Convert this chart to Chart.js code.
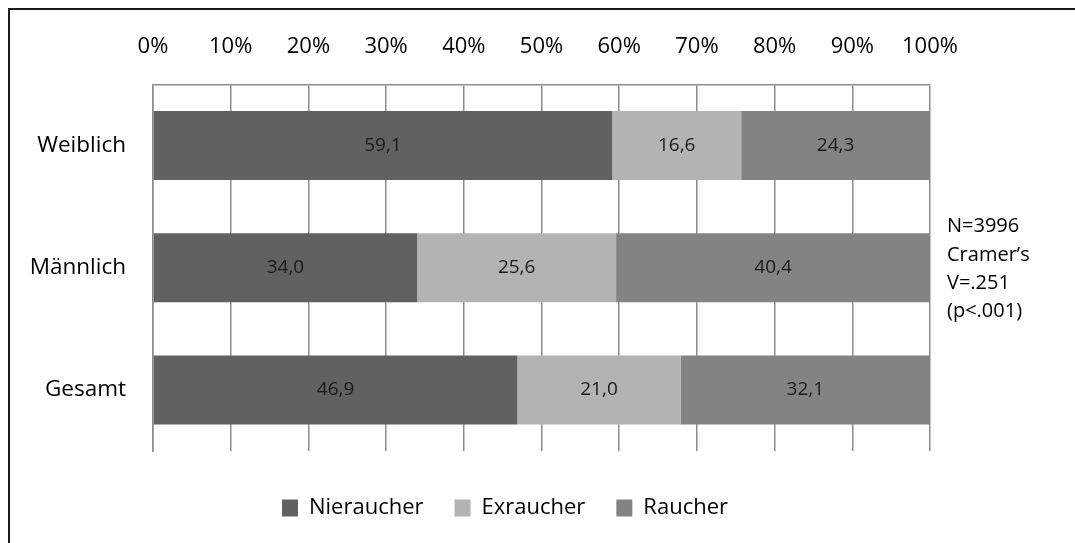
<!DOCTYPE html>
<html lang="de">
<head>
<meta charset="utf-8">
<title>Rauchstatus nach Geschlecht</title>
<script src="https://cdn.jsdelivr.net/npm/chart.js@4/dist/chart.umd.min.js"></script>
<style>
  html, body { margin: 0; padding: 0; background: #fff; }
  #wrap { position: relative; width: 1075px; height: 543px; overflow: hidden; }
  #frame { position: absolute; left: 8px; top: 8px; right: -20px; bottom: -20px;
           border-left: 2px solid #1c1c1c; border-top: 2px solid #1c1c1c; pointer-events: none; }
  canvas { display: block; }
</style>
</head>
<body>
<div id="wrap">
  <canvas id="chart" width="1075" height="543"></canvas>
  <div id="frame"></div>
</div>
<script>
// Gruppen (Zeilen) und Anteile in Prozent je Rauchstatus
const categories = ['Weiblich', 'Männlich', 'Gesamt'];
const nieraucher = [59.1, 34.0, 46.9];
const exraucher  = [16.6, 25.6, 21.0];
const raucher    = [24.3, 40.4, 32.1];
const seriesNames = ['Nieraucher', 'Exraucher', 'Raucher'];
const seriesColors = ['#616161', '#b3b3b3', '#838383'];
const tickValues = [0, 10, 20, 30, 40, 50, 60, 70, 80, 90, 100];
const noteLines = ['N=3996', 'Cramer\u2019s', 'V=.251', '(p<.001)'];

const FONT = '"Open Sans", "DejaVu Sans", sans-serif';
const GRID = '#8c8c8c';

// Zahlen mit Dezimalkomma in die Balkensegmente schreiben
const segmentLabels = {
  id: 'segmentLabels',
  afterDatasetsDraw(chart) {
    const ctx = chart.ctx;
    ctx.save();
    ctx.font = '19px ' + FONT;
    ctx.fillStyle = '#1a1a1a';
    ctx.textAlign = 'center';
    ctx.textBaseline = 'middle';
    chart.data.datasets.forEach((ds, i) => {
      chart.getDatasetMeta(i).data.forEach((bar, j) => {
        const p = bar.getProps(['x', 'y', 'base'], true);
        const cx = (p.x + p.base) / 2;
        ctx.fillText(ds.data[j].toFixed(1).replace('.', ','), cx, p.y);
      });
    });
    ctx.restore();
  }
};

// Kennwerte rechts neben der Grafik
const statNote = {
  id: 'statNote',
  afterDraw(chart) {
    const ctx = chart.ctx;
    const area = chart.chartArea;
    ctx.save();
    ctx.font = '20px ' + FONT;
    ctx.fillStyle = '#000';
    ctx.textAlign = 'left';
    ctx.textBaseline = 'middle';
    const x = area.right + 17;
    const y0 = (area.top + area.bottom) / 2 - 1.5 * 28.3 + 1.5;
    noteLines.forEach((t, k) => ctx.fillText(t, x, y0 + k * 28.3));
    ctx.restore();
  }
};

const datasets = [nieraucher, exraucher, raucher].map((values, i) => ({
  label: seriesNames[i],
  data: values,
  backgroundColor: seriesColors[i],
  borderWidth: 0,
  categoryPercentage: 1,
  barPercentage: 0.565
}));

new Chart(document.getElementById('chart'), {
  type: 'bar',
  data: { labels: categories, datasets },
  options: {
    indexAxis: 'y',
    responsive: false,
    animation: false,
    devicePixelRatio: 1,
    layout: { padding: { left: 0, right: 65, top: 10, bottom: 14 } },
    scales: {
      x: {
        position: 'top',
        stacked: true,
        min: 0,
        max: 100,
        afterBuildTicks(scale) { scale.ticks = tickValues.map(v => ({ value: v })); },
        ticks: {
          padding: 24,
          color: '#000',
          font: { family: FONT, size: 22 },
          callback: v => v + '%'
        },
        grid: { color: GRID, lineWidth: 1.5, drawTicks: false },
        border: { display: true, color: GRID, width: 1.5 }
      },
      y: {
        stacked: true,
        afterFit(scale) { scale.width = 153; },
        ticks: {
          padding: 27,
          color: '#000',
          font: { family: FONT, size: 22.5 }
        },
        grid: { display: false, drawTicks: false },
        border: { display: true, color: GRID, width: 1.5 }
      },
      // freie Spalte rechts für die Kennwerte
      note: {
        axis: 'y',
        type: 'category',
        position: 'right',
        afterFit(scale) { scale.width = 80; },
        ticks: { display: false },
        grid: { display: false, drawTicks: false },
        border: { display: false }
      }
    },
    plugins: {
      tooltip: { enabled: false },
      legend: {
        position: 'bottom',
        title: { display: true, text: '', font: { size: 0 }, padding: { top: 15, bottom: 0 } },
        labels: {
          boxWidth: 16,
          boxHeight: 17,
          padding: 31,
          color: '#000',
          font: { family: FONT, size: 22 }
        }
      }
    }
  },
  plugins: [segmentLabels, statNote]
});
</script>
</body>
</html>
